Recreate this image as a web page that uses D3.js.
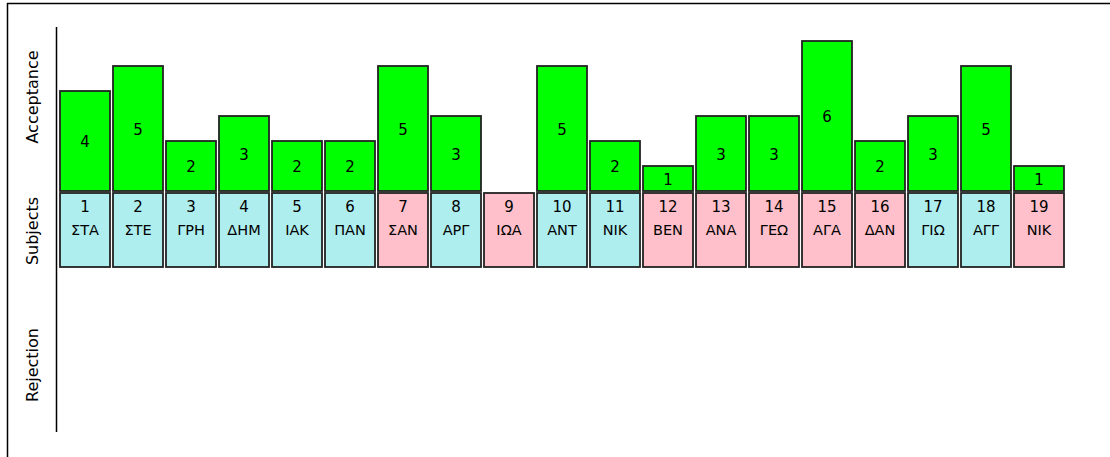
<!DOCTYPE html>
<html>
<head>
<meta charset="utf-8">
<script src="https://cdn.jsdelivr.net/npm/d3@7"></script>
<style>
  body { margin: 0; background: #fff; }
  svg text { font-family: "DejaVu Sans", Tahoma, sans-serif; }
</style>
</head>
<body>
<div id="chart"></div>
<script>
// subjects and their scores
var subjectIds = [1, 2, 3, 4, 5, 6, 7, 8, 9, 10, 11, 12, 13, 14, 15, 16, 17, 18, 19];
var subjectNames = ["ΣΤΑ", "ΣΤΕ", "ΓΡΗ", "ΔΗΜ", "ΙΑΚ", "ΠΑΝ", "ΣΑΝ", "ΑΡΓ", "ΙΩΑ", "ΑΝΤ",
                    "ΝΙΚ", "ΒΕΝ", "ΑΝΑ", "ΓΕΩ", "ΑΓΑ", "ΔΑΝ", "ΓΙΩ", "ΑΓΓ", "ΝΙΚ"];
var subjectGroup = ["b", "b", "b", "b", "b", "b", "g", "b", "g", "b",
                    "b", "g", "g", "g", "g", "g", "b", "b", "g"];
var acceptance = [4, 5, 2, 3, 2, 2, 5, 3, 0, 5, 2, 1, 3, 3, 6, 2, 3, 5, 1];
var rejection  = [0, 0, 0, 0, 0, 0, 0, 0, 0, 0, 0, 0, 0, 0, 0, 0, 0, 0, 0];
var sectionLabels = ["Acceptance", "Subjects", "Rejection"];

var W = 1110, H = 457;
var groupColor = {b: "#afeeee", g: "#ffc0cb"};

var data = subjectIds.map(function(id, i) {
  return {id: id, name: subjectNames[i], group: subjectGroup[i],
          acc: acceptance[i], rej: rejection[i]};
});

var svg = d3.select("#chart")
  .append("svg")
  .attr("width", W)
  .attr("height", H);

// frame (top and left edges only)
svg.append("line")
  .attr("x1", 7).attr("y1", 3.5).attr("x2", W).attr("y2", 3.5)
  .style("stroke", "#000").style("stroke-width", 1.5);
svg.append("line")
  .attr("x1", 7.5).attr("y1", 3).attr("x2", 7.5).attr("y2", H)
  .style("stroke", "#000").style("stroke-width", 1.5);

// x scale: one band per subject
var x = d3.scaleBand()
  .domain(subjectIds)
  .range([58.5, 1065.5])
  .paddingInner(3 / 53)
  .paddingOuter(1.5 / 53);

// acceptance goes up from the subject row, rejection goes down
var boxTop = 193, boxBottom = 267;
var yAcc = d3.scaleLinear().domain([0, 6]).range([191, 41]);
var yRej = d3.scaleLinear().domain([0, 6]).range([269, 419]);

// vertical axis line
svg.append("line")
  .attr("x1", 56.5).attr("y1", 27).attr("x2", 56.5).attr("y2", 432)
  .style("stroke", "#000").style("stroke-width", 1.5);

// section labels, rotated
var labelY = [97, 231, 365];
svg.selectAll(".sectionLabel")
  .data(sectionLabels)
  .enter()
  .append("text")
  .attr("class", "sectionLabel")
  .attr("transform", function(d, i) { return "translate(32," + labelY[i] + ") rotate(-90)"; })
  .attr("text-anchor", "middle")
  .attr("dominant-baseline", "central")
  .style("font-size", "16px")
  .style("fill", "#000")
  .text(function(d) { return d; });

// acceptance bars
var accData = data.filter(function(d) { return d.acc > 0; });
svg.selectAll(".accBar")
  .data(accData)
  .enter()
  .append("rect")
  .attr("class", "accBar")
  .attr("x", function(d) { return x(d.id); })
  .attr("y", function(d) { return yAcc(d.acc); })
  .attr("width", x.bandwidth())
  .attr("height", function(d) { return yAcc(0) - yAcc(d.acc); })
  .style("fill", "#00ff00")
  .style("stroke", "#222")
  .style("stroke-width", 1.8);

svg.selectAll(".accText")
  .data(accData)
  .enter()
  .append("text")
  .attr("class", "accText")
  .attr("x", function(d) { return x(d.id) + x.bandwidth() / 2; })
  .attr("y", function(d) { return (yAcc(d.acc) + yAcc(0)) / 2 + 1; })
  .attr("text-anchor", "middle")
  .attr("dominant-baseline", "central")
  .style("font-size", "15px")
  .style("fill", "#000")
  .text(function(d) { return d.acc; });

// rejection bars (none above zero here)
var rejData = data.filter(function(d) { return d.rej > 0; });
svg.selectAll(".rejBar")
  .data(rejData)
  .enter()
  .append("rect")
  .attr("class", "rejBar")
  .attr("x", function(d) { return x(d.id); })
  .attr("y", yRej(0))
  .attr("width", x.bandwidth())
  .attr("height", function(d) { return yRej(d.rej) - yRej(0); })
  .style("fill", "#ff0000")
  .style("stroke", "#222")
  .style("stroke-width", 1.8);

// subject boxes
var boxes = svg.selectAll(".subject")
  .data(data)
  .enter()
  .append("g")
  .attr("class", "subject")
  .attr("transform", function(d) { return "translate(" + x(d.id) + "," + boxTop + ")"; });

boxes.append("rect")
  .attr("width", x.bandwidth())
  .attr("height", boxBottom - boxTop)
  .style("fill", function(d) { return groupColor[d.group]; })
  .style("stroke", "#222")
  .style("stroke-width", 1.8);

boxes.append("text")
  .attr("x", x.bandwidth() / 2)
  .attr("y", 14)
  .attr("text-anchor", "middle")
  .attr("dominant-baseline", "central")
  .style("font-size", "15px")
  .style("fill", "#000")
  .text(function(d) { return d.id; });

boxes.append("text")
  .attr("x", x.bandwidth() / 2)
  .attr("y", 37)
  .attr("text-anchor", "middle")
  .attr("dominant-baseline", "central")
  .style("font-size", "14.5px")
  .style("fill", "#000")
  .text(function(d) { return d.name; });
</script>
</body>
</html>
